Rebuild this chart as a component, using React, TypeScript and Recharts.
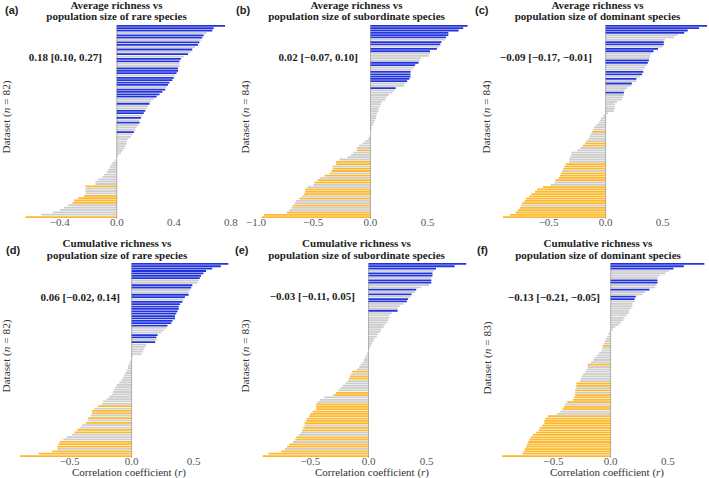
import React from "react";
import { BarChart, Bar, XAxis, YAxis, Cell, ReferenceLine } from "recharts";

const SERIF = "Liberation Serif, Times New Roman, Times, serif";
const SANS = "Liberation Sans, Arial, sans-serif";

// B = significant positive, G = not significant, O = significant negative
const COLORS: Record<string, string> = { B: "#2233DD", G: "#CDCDCD", O: "#FDB82E" };

// (a) average richness vs rare species, n = 82
const rAvgRare = [
  0.76, 0.68, 0.67, 0.63, 0.61, 0.6, 0.59, 0.58, 0.57, 0.55,
  0.53, 0.52, 0.5, 0.47, 0.45, 0.44, 0.44, 0.44, 0.43, 0.43,
  0.42, 0.41, 0.4, 0.39, 0.37, 0.36, 0.35, 0.34, 0.32, 0.3,
  0.28, 0.26, 0.24, 0.23, 0.22, 0.21, 0.2, 0.19, 0.18, 0.17,
  0.16, 0.16, 0.15, 0.14, 0.13, 0.12, 0.11, 0.1, 0.08, 0.07,
  0.07, 0.06, 0.05, 0.04, 0.03, 0.01, 0.0, -0.01, -0.03, -0.04,
  -0.05, -0.06, -0.07, -0.09, -0.1, -0.13, -0.15, -0.15, -0.22, -0.22,
  -0.22, -0.22, -0.23, -0.27, -0.3, -0.31, -0.34, -0.37, -0.4, -0.45,
  -0.53, -0.64,
];
const sigAvgRare =
  "BBBGBBGBBG" + "BGBGBBGGBB" + "BGBBBBGBBB" + "BGGBGGBBGB" + "GBGGGBGGGG" +
  "GGGGGGGGGG" + "GGGGGGGGOG" + "GGOOOOGGGG" + "GO";

// (b) average richness vs subordinate species, n = 84
const rAvgSub = [
  0.85, 0.81, 0.77, 0.68, 0.68, 0.66, 0.65, 0.62, 0.61, 0.6,
  0.58, 0.52, 0.52, 0.51, 0.44, 0.43, 0.42, 0.39, 0.38, 0.36,
  0.35, 0.35, 0.35, 0.34, 0.32, 0.3, 0.29, 0.22, 0.21, 0.19,
  0.16, 0.14, 0.13, 0.1, 0.09, 0.08, 0.07, 0.07, 0.06, 0.05,
  0.05, 0.04, 0.03, 0.02, 0.01, 0.01, 0.0, 0.0, -0.01, -0.02,
  -0.05, -0.07, -0.1, -0.12, -0.12, -0.15, -0.17, -0.2, -0.27, -0.3,
  -0.3, -0.33, -0.33, -0.34, -0.36, -0.4, -0.44, -0.46, -0.49, -0.5,
  -0.55, -0.57, -0.57, -0.58, -0.6, -0.62, -0.65, -0.66, -0.68, -0.69,
  -0.71, -0.73, -0.93, -0.95,
];
const sigAvgSub =
  "BBBBBBGBBG" + "BBGGGGBBGG" + "BBBBBGGBGG" + "GGGGGGGGGG" + "GGGGGGGGGG" +
  "GGGGOGGGGO" + "OGOOGOGOOG" + "GOOOGOGGOG" + "GOOO";

// (c) average richness vs dominant species, n = 84
const rAvgDom = [
  0.89, 0.82, 0.72, 0.69, 0.63, 0.6, 0.52, 0.51, 0.51, 0.5,
  0.46, 0.42, 0.4, 0.39, 0.39, 0.38, 0.37, 0.36, 0.35, 0.33,
  0.33, 0.32, 0.3, 0.27, 0.27, 0.23, 0.22, 0.19, 0.17, 0.16,
  0.16, 0.15, 0.14, 0.1, 0.08, 0.08, 0.08, 0.07, 0.02, -0.02,
  -0.04, -0.05, -0.06, -0.08, -0.1, -0.11, -0.12, -0.13, -0.14, -0.15,
  -0.17, -0.18, -0.2, -0.22, -0.25, -0.3, -0.3, -0.31, -0.32, -0.32,
  -0.35, -0.36, -0.37, -0.38, -0.39, -0.4, -0.41, -0.44, -0.45, -0.48,
  -0.55, -0.6, -0.62, -0.65, -0.67, -0.7, -0.71, -0.73, -0.74, -0.75,
  -0.77, -0.79, -0.84, -0.9,
];
const sigAvgDom =
  "BBBBGGGBBG" + "BBGGGBBGGG" + "BBGBGBGGGB" + "GGGGGGGGGG" + "GGGGGGOGGG" +
  "GOOGGGGGGG" + "OOOGOOOOGG" + "OOOOOOOOGO" + "OOOO";

// (d) cumulative richness vs rare species, n = 82
const rCumRare = [
  0.78, 0.72, 0.65, 0.6, 0.58, 0.56, 0.55, 0.54, 0.53, 0.49,
  0.48, 0.47, 0.46, 0.46, 0.43, 0.42, 0.41, 0.39, 0.38, 0.38,
  0.37, 0.36, 0.35, 0.35, 0.33, 0.32, 0.29, 0.28, 0.26, 0.24,
  0.21, 0.2, 0.2, 0.19, 0.12, 0.11, 0.1, 0.09, 0.08, 0.01,
  0.0, -0.01, -0.02, -0.03, -0.03, -0.04, -0.05, -0.06, -0.07, -0.08,
  -0.1, -0.12, -0.13, -0.14, -0.15, -0.16, -0.18, -0.2, -0.23, -0.24,
  -0.27, -0.3, -0.32, -0.32, -0.33, -0.35, -0.35, -0.37, -0.4, -0.42,
  -0.44, -0.46, -0.48, -0.52, -0.55, -0.58, -0.59, -0.6, -0.6, -0.64,
  -0.75, -0.9,
];
const sigCumRare =
  "BBBBBBBGGB" + "BGGBBGBBBB" + "BBBBBBBGGG" + "BBGBGGGGGG" + "GGGGGGGGGG" +
  "GGGGGGGGGG" + "OGOOGOGOGG" + "OOGGGOOOGO" + "OO";

// (e) cumulative richness vs subordinate species, n = 83
const rCumSub = [
  0.84, 0.74, 0.58, 0.56, 0.55, 0.55, 0.54, 0.54, 0.54, 0.52,
  0.45, 0.41, 0.4, 0.37, 0.36, 0.34, 0.33, 0.3, 0.27, 0.25,
  0.25, 0.2, 0.18, 0.18, 0.17, 0.16, 0.14, 0.13, 0.11, 0.1,
  0.08, 0.07, 0.05, 0.04, 0.03, 0.02, 0.01, 0.0, -0.01, -0.02,
  -0.03, -0.04, -0.05, -0.07, -0.08, -0.1, -0.14, -0.15, -0.16, -0.17,
  -0.18, -0.2, -0.22, -0.24, -0.26, -0.28, -0.3, -0.38, -0.42, -0.44,
  -0.45, -0.45, -0.45, -0.48, -0.5, -0.51, -0.53, -0.54, -0.55, -0.55,
  -0.56, -0.57, -0.58, -0.6, -0.62, -0.63, -0.65, -0.68, -0.7, -0.72,
  -0.75, -0.86, -0.91,
];
const sigCumSub =
  "BBBGBBGBBG" + "GBGBGBBGGG" + "BGGGGGGGGG" + "GGGGGGGGGG" + "GGGGGGOGOO" +
  "GGGGGOOGGG" + "OOOOOOOOOG" + "OOGGOOGOOG" + "OOO";

// (f) cumulative richness vs dominant species, n = 83
const rCumDom = [
  0.82, 0.64, 0.55, 0.51, 0.48, 0.43, 0.41, 0.41, 0.41, 0.4,
  0.39, 0.34, 0.3, 0.28, 0.22, 0.21, 0.21, 0.19, 0.19, 0.18,
  0.16, 0.16, 0.14, 0.12, 0.11, 0.09, 0.07, 0.04, 0.02, -0.01,
  -0.02, -0.03, -0.04, -0.05, -0.06, -0.07, -0.07, -0.08, -0.1, -0.12,
  -0.14, -0.15, -0.17, -0.2, -0.2, -0.21, -0.22, -0.24, -0.25, -0.26,
  -0.27, -0.3, -0.3, -0.3, -0.31, -0.31, -0.31, -0.32, -0.33, -0.38,
  -0.4, -0.41, -0.42, -0.44, -0.47, -0.55, -0.57, -0.58, -0.58, -0.6,
  -0.62, -0.63, -0.65, -0.68, -0.7, -0.71, -0.72, -0.73, -0.74, -0.75,
  -0.76, -0.77, -0.95,
];
const sigCumDom =
  "BBBGGGGBBG" + "GBGGBBGGGG" + "GGGGGGGGGG" + "GGGGGOGGGG" + "GGGOGGGGGG" +
  "GOOGOGOOOO" + "GOOGGOOOOO" + "OOOOOOOOOO" + "OOO";

const ticksRare = [-0.4, 0, 0.4, 0.8];
const ticksSub = [-1, -0.5, 0, 0.5];
const ticksHalf = [-0.5, 0, 0.5];

const fmt = (v: number) => (v < 0 ? "\u2212" : "") + Math.abs(v).toFixed(1);

type PanelProps = {
  values: number[];
  sig: string;
  domain: [number, number];
  ticks: number[];
  x0: number;
  x1: number;
  top: number;
  bottom: number;
};

const Panel = ({ values, sig, domain, ticks, x0, x1, top, bottom }: PanelProps) => {
  const pad = 16;
  const data = values.map((r, i) => ({ id: i, r, s: sig[i] }));
  return (
    <div style={{ position: "absolute", left: x0 - pad, top, fontFamily: SERIF }}>
      <BarChart
        width={x1 - x0 + 2 * pad}
        height={bottom - top + 20}
        data={data}
        layout="vertical"
        margin={{ top: 0, right: pad, bottom: 0, left: pad }}
        style={{ fontFamily: SERIF }}
      >
        <XAxis
          type="number"
          domain={domain}
          ticks={ticks}
          interval={0}
          allowDataOverflow
          axisLine={false}
          tickLine={false}
          tickSize={0}
          tickMargin={0}
          height={20}
          tick={{ fill: "#555", fontSize: 11, style: { fontFamily: SERIF } }}
          tickFormatter={fmt}
        />
        <YAxis type="category" dataKey="id" hide />
        <ReferenceLine x={0} stroke="#555" strokeWidth={0.8} strokeDasharray="1 1" />
        <Bar dataKey="r" barSize={1.8} isAnimationActive={false}>
          {data.map((d) => (
            <Cell key={d.id} fill={COLORS[d.s]} />
          ))}
        </Bar>
      </BarChart>
    </div>
  );
};

const serif = { fontFamily: SERIF };

const Title = ({ cx, y, l1, l2 }: { cx: number; y: number; l1: string; l2: string }) => (
  <text textAnchor="middle" style={serif} fontWeight="bold" fontSize={11} fill="#222">
    <tspan x={cx} y={y}>{l1}</tspan>
    <tspan x={cx} y={y + 11.8}>{l2}</tspan>
  </text>
);

const YLabel = ({ cx, cy, n }: { cx: number; cy: number; n: number }) => (
  <text
    x={cx}
    y={cy}
    transform={`rotate(-90 ${cx} ${cy})`}
    textAnchor="middle"
    dominantBaseline="central"
    style={serif}
    fontSize={11.3}
    fill="#333"
  >
    Dataset (<tspan fontStyle="italic">n</tspan> = {n})
  </text>
);

const XLabel = ({ cx, y }: { cx: number; y: number }) => (
  <text x={cx} y={y} textAnchor="middle" style={serif} fontSize={11} fill="#333">
    Correlation coefficient (<tspan fontStyle="italic">r</tspan>)
  </text>
);

const Note = ({ x, y, t }: { x: number; y: number; t: string }) => (
  <text x={x} y={y} textAnchor="end" style={serif} fontWeight="bold" fontSize={11} fill="#222">
    {t}
  </text>
);

const Tag = ({ x, y, t }: { x: number; y: number; t: string }) => (
  <text x={x} y={y} style={{ fontFamily: SANS }} fontWeight="bold" fontSize={11} fill="#222">
    {t}
  </text>
);

export default function App() {
  const TOP1 = 24.5;
  const BOT1 = 218;
  const TOP2 = 262.5;
  const BOT2 = 457;
  return (
    <div
      style={{
        position: "absolute",
        left: 0,
        top: 0,
        width: 709,
        height: 478,
        background: "#fff",
        overflow: "hidden",
        fontFamily: SERIF,
      }}
    >
      <Panel values={rAvgRare} sig={sigAvgRare} domain={[-0.7, 0.8]} ticks={ticksRare} x0={16.55} x1={230.3} top={TOP1} bottom={BOT1} />
      <Panel values={rAvgSub} sig={sigAvgSub} domain={[-1, 0.85]} ticks={ticksSub} x0={255.8} x1={467.6} top={TOP1} bottom={BOT1} />
      <Panel values={rAvgDom} sig={sigAvgDom} domain={[-0.9, 0.9]} ticks={ticksHalf} x0={502.7} x1={707.9} top={TOP1} bottom={BOT1} />
      <Panel values={rCumRare} sig={sigCumRare} domain={[-0.9, 0.8]} ticks={ticksHalf} x0={20.4} x1={231.2} top={TOP2} bottom={BOT2} />
      <Panel values={rCumSub} sig={sigCumSub} domain={[-0.95, 0.85]} ticks={ticksHalf} x0={258.2} x1={467.6} top={TOP2} bottom={BOT2} />
      <Panel values={rCumDom} sig={sigCumDom} domain={[-0.95, 0.85]} ticks={ticksHalf} x0={502.1} x1={707.9} top={TOP2} bottom={BOT2} />

      <svg
        width={709}
        height={478}
        style={{ position: "absolute", left: 0, top: 0, pointerEvents: "none", fontFamily: SERIF }}
      >
        <Tag x={5} y={13.5} t="(a)" />
        <Tag x={236} y={13.5} t="(b)" />
        <Tag x={475} y={13.5} t="(c)" />
        <Tag x={6} y={253.5} t="(d)" />
        <Tag x={235} y={253.5} t="(e)" />
        <Tag x={477} y={253.5} t="(f)" />

        <Title cx={116.5} y={8.5} l1="Average richness vs" l2="population size of rare species" />
        <Title cx={356.5} y={8.5} l1="Average richness vs" l2="population size of subordinate species" />
        <Title cx={597.5} y={8.5} l1="Average richness vs" l2="population size of dominant species" />
        <Title cx={117} y={247} l1="Cumulative richness vs" l2="population size of rare species" />
        <Title cx={356.5} y={247} l1="Cumulative richness vs" l2="population size of subordinate species" />
        <Title cx={598} y={247} l1="Cumulative richness vs" l2="population size of dominant species" />

        <YLabel cx={6} cy={117} n={82} />
        <YLabel cx={245} cy={117} n={84} />
        <YLabel cx={486} cy={117} n={84} />
        <YLabel cx={6} cy={356} n={82} />
        <YLabel cx={245} cy={356} n={83} />
        <YLabel cx={486.5} cy={358} n={83} />

        <Note x={102} y={60.5} t="0.18 [0.10, 0.27]" />
        <Note x={358} y={60.5} t={"0.02 [\u22120.07, 0.10]"} />
        <Note x={592} y={60.5} t={"\u22120.09 [\u22120.17, \u22120.01]"} />
        <Note x={120} y={300.5} t={"0.06 [\u22120.02, 0.14]"} />
        <Note x={355} y={300} t={"\u22120.03 [\u22120.11, 0.05]"} />
        <Note x={600} y={301} t={"\u22120.13 [\u22120.21, \u22120.05]"} />

        <XLabel cx={129} y={476} />
        <XLabel cx={372} y={476} />
        <XLabel cx={607} y={476} />
      </svg>
    </div>
  );
}
